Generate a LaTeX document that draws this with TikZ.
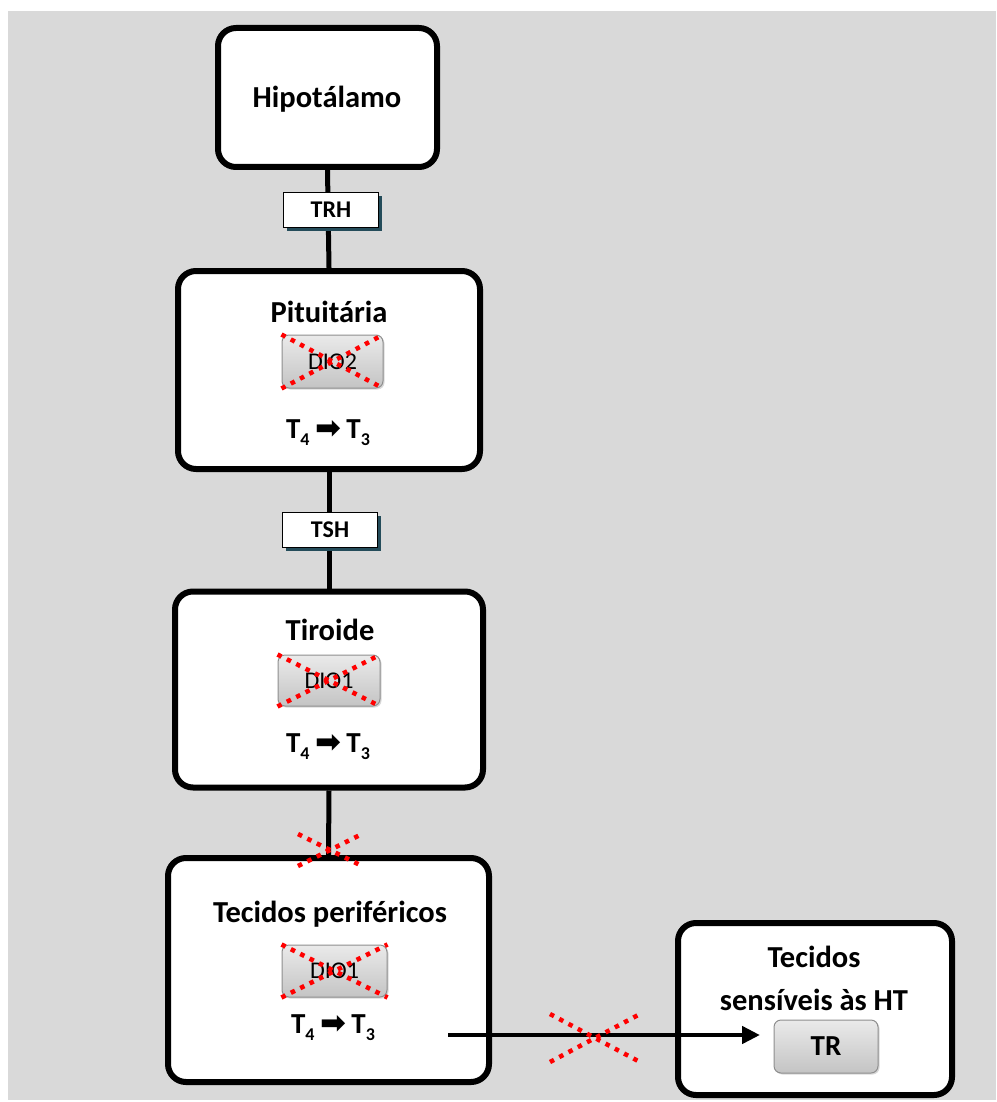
\documentclass[tikz,border=0pt]{standalone}
\usepackage{fontspec}
\setmainfont{Carlito}
\newfontfamily\symfont{DejaVu Sans}
\usetikzlibrary{arrows.meta,shadows}
\definecolor{bg}{HTML}{D9D9D9}
\definecolor{shadowteal}{HTML}{244C5A}
\definecolor{enzlight}{HTML}{EAEAEA}
\definecolor{enzdark}{HTML}{C4C4C4}
\definecolor{enzborder}{HTML}{8E8E8E}
\newcommand{\reac}{T\raisebox{-7pt}{\fontsize{18}{18}\selectfont 4}\hspace{6pt}{\symfont\fontsize{31}{31}\selectfont ➡}\hspace{5pt}T\raisebox{-7pt}{\fontsize{18}{18}\selectfont 3}}
\begin{document}
\begin{tikzpicture}[x=1pt,y=-1pt,
  organ/.style={draw=black, line width=6pt, fill=white, rounded corners=18pt, inner sep=0pt,
    drop shadow={shadow xshift=2pt, shadow yshift=-2pt, opacity=0.25}},
  title/.style={font=\bfseries\fontsize{30.5}{42}\selectfont, inner sep=0pt, align=center, anchor=base},
  hormone/.style={draw=black, line width=1.2pt, fill=white, inner sep=0pt,
    minimum width=95pt, minimum height=35pt, font=\bfseries\fontsize{24}{26}\selectfont,
    drop shadow={shadow xshift=3pt, shadow yshift=-3pt, fill=shadowteal, opacity=1}},
  enzyme/.style={draw=enzborder, line width=1pt, rounded corners=7pt, inner sep=0pt,
    top color=enzlight, bottom color=enzdark, font=\fontsize{24}{26}\selectfont,
    drop shadow={shadow xshift=1.5pt, shadow yshift=-1.5pt, opacity=0.3}},
  reaction/.style={font=\bfseries\fontsize{29}{31}\selectfont, inner sep=0pt, anchor=base},
  link/.style={draw=black, line width=5pt},
  block/.style={draw=red, line width=4.5pt, dash pattern=on 4.5pt off 6pt}
]
\useasboundingbox (0,0) rectangle (996,1102);
\fill[bg] (8,11) rectangle (996,1100);

% organ boxes
\node[organ, minimum width=219pt, minimum height=139pt] (hip) at (327.5,97.5) {};
\node[organ, minimum width=302pt, minimum height=198pt] (pit) at (329,370) {};
\node[organ, minimum width=308pt, minimum height=196pt] (tir) at (329,689.5) {};
\node[organ, minimum width=321pt, minimum height=224pt] (tec) at (328.5,970) {};
\node[organ, minimum width=274pt, minimum height=172pt] (sen) at (815,1009) {};

% connectors
\draw[link] (hip.south) -- (pit.north);
\draw[link] (pit.south) -- (tir.north);
\draw[link] (tir.south) -- (tec.north);

% hormone labels
\node[hormone] (trh) at (331,210) {TRH};
\node[hormone] (tsh) at (330,530) {TSH};

% titles
\node[title] (thip) at (327,108) {Hipotálamo};
\node[title] (tpit) at (329,322) {Pituitária};
\node[title] (ttir) at (330,640) {Tiroide};
\node[title] (ttec) at (330,922) {Tecidos periféricos};
\node[title] (tsen1) at (814,967) {Tecidos};
\node[title] (tsen2) at (814,1010) {sensíveis às HT};

% enzymes
\node[enzyme, minimum width=101pt, minimum height=53pt] (dio2) at (332.5,361.5) {DIO2};
\node[enzyme, minimum width=102pt, minimum height=51pt] (dio1a) at (329,680.5) {DIO1};
\node[enzyme, minimum width=105pt, minimum height=52pt] (dio1b) at (334.5,971) {DIO1};
\node[enzyme, minimum width=104pt, minimum height=53pt, font=\bfseries\fontsize{29}{31}\selectfont] (tr) at (826,1046.5) {TR};

% reactions
\node[reaction] (rpit) at (328,438) {\reac};
\node[reaction] (rtir) at (328,752) {\reac};
\node[reaction] (rtec) at (333,1033) {\reac};

% arrow to sensitive tissues
\coordinate (arrS) at (448,1035);
\coordinate (arrE) at (760,1035);
\draw[line width=4.5pt, -{Triangle[length=18pt,width=17pt]}] (arrS) -- (arrE);

% blocked (red dotted crosses)
\draw[block] (dio2.north west) -- (dio2.south east);
\draw[block] (dio2.south west) -- (dio2.north east);
\draw[block] (dio1a.north west) -- (dio1a.south east);
\draw[block] (dio1a.south west) -- (dio1a.north east);
\draw[block] (dio1b.north west) -- (dio1b.south east);
\draw[block] (dio1b.south west) -- (dio1b.north east);
\coordinate (x1) at (330,850);
\draw[block] ([shift={(-32,-16)}]x1) -- ([shift={(32,16)}]x1);
\draw[block] ([shift={(-32,16)}]x1) -- ([shift={(32,-16)}]x1);
\coordinate (x2) at (595,1038);
\draw[block] ([shift={(-45,-24)}]x2) -- ([shift={(45,24)}]x2);
\draw[block] ([shift={(-45,24)}]x2) -- ([shift={(45,-24)}]x2);
\end{tikzpicture}
\end{document}
